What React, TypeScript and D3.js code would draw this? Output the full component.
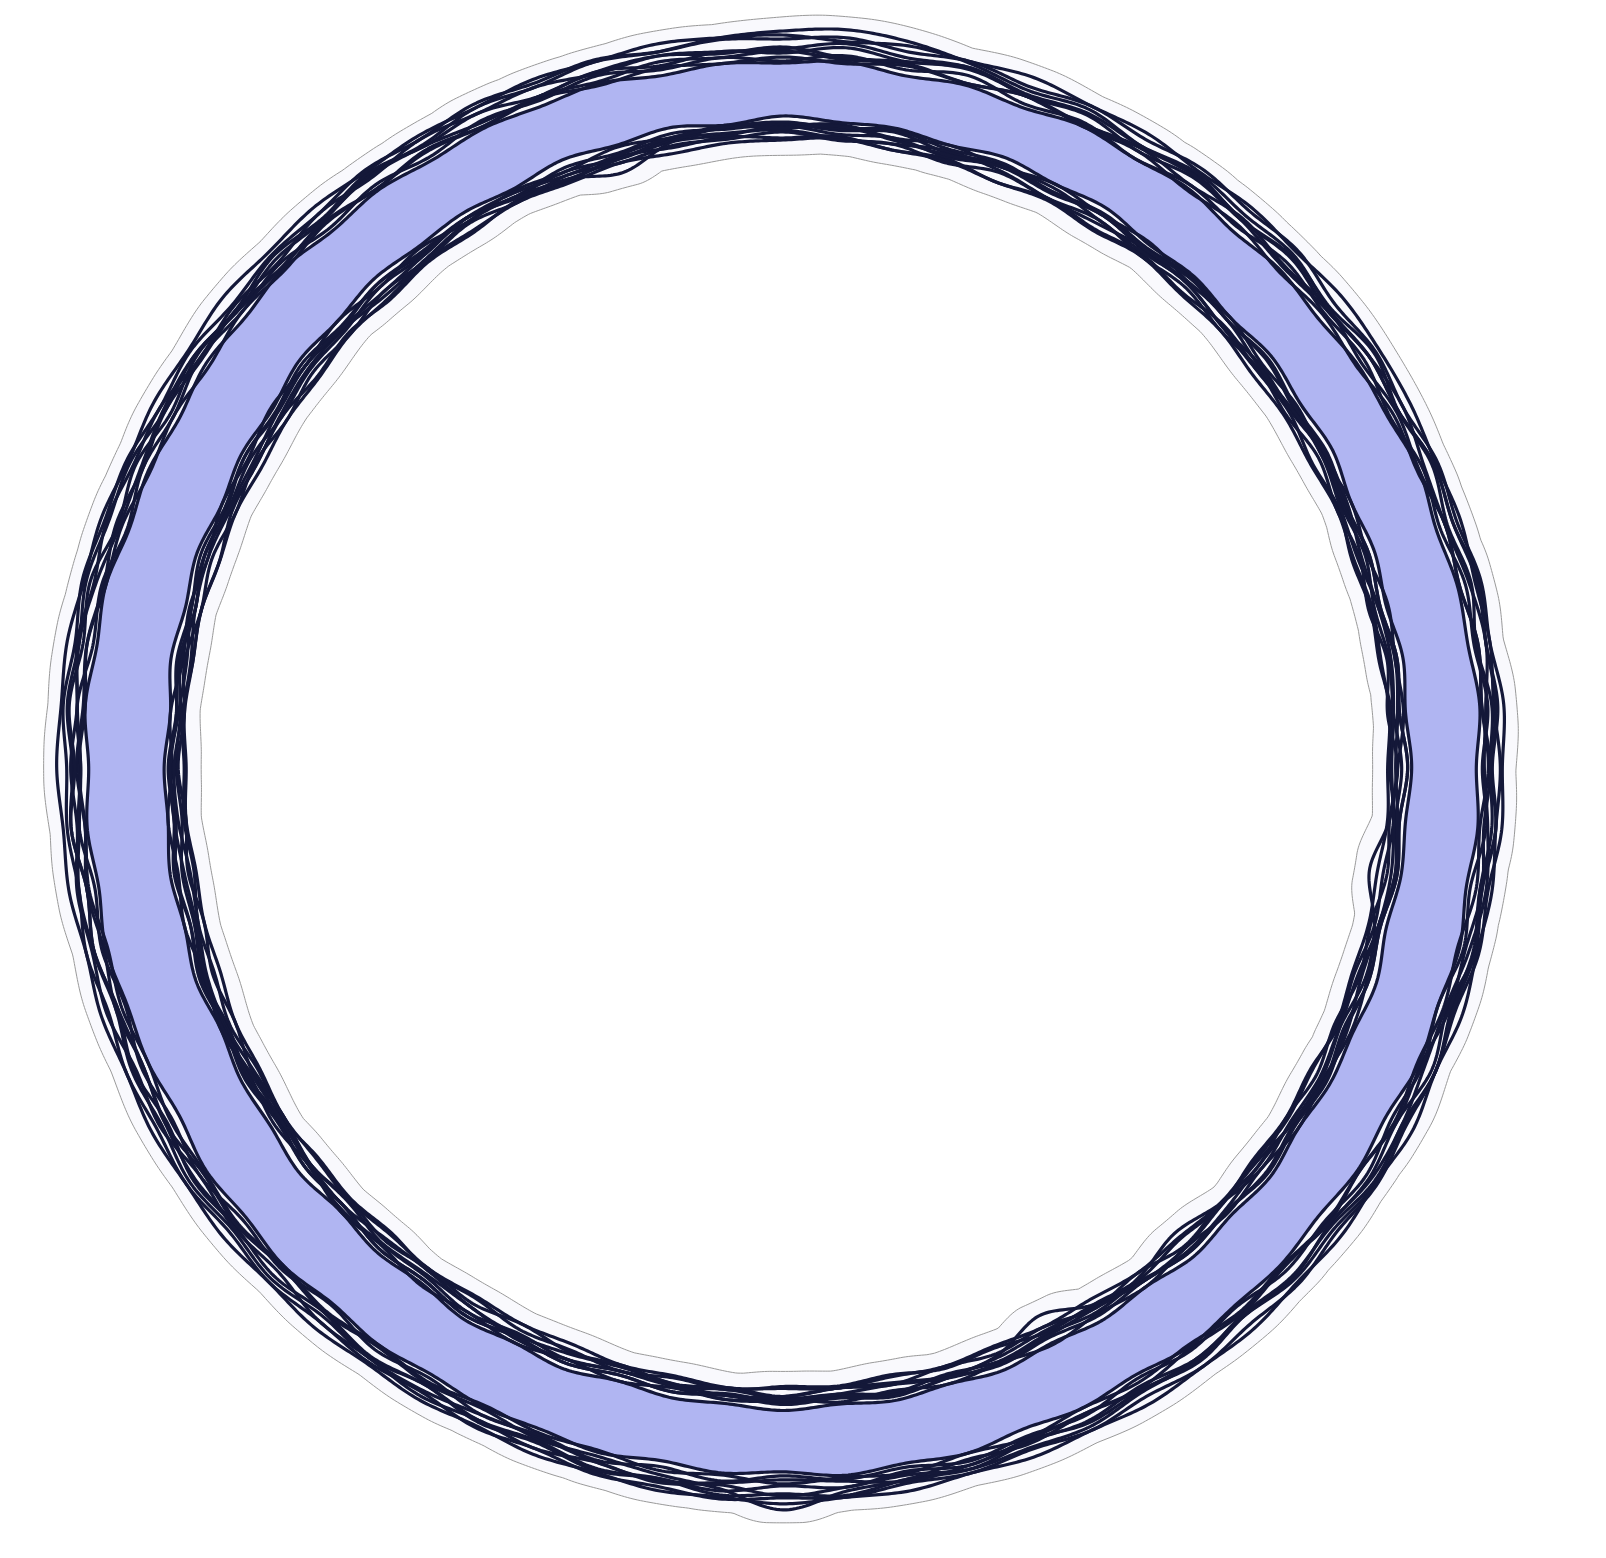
import React, { useEffect, useRef } from 'react';
import * as d3 from 'd3';

const WIDTH = 1606;
const HEIGHT = 1558;
const CX = 783;
const CY = 767;

// band edge radii, every 15 degrees clockwise from the top
const baseOuter = [702, 702, 701, 699, 697, 694, 693, 694, 697, 700, 703, 705, 705, 704, 702, 700, 697, 695, 694, 695, 697, 700, 701, 702];
const baseInner = [652, 650, 646, 640, 634, 630, 628, 630, 634, 638, 641, 643, 644, 642, 638, 633, 628, 623, 620, 622, 627, 634, 642, 648];

// each member's outer contour: outward distance from the band edge, every 5 degrees
const outer0 = [34, 38, 34, 26, 18, 24, 16, 22, 14, 20, 12, 18, 14, 22, 18, 26, 20, 24, 16, 22, 14, 20, 16, 24, 18, 26, 20, 24, 16, 20, 12, 18, 14, 22, 18, 26, 22, 26, 18, 22, 14, 18, 12, 20, 16, 24, 20, 26, 20, 22, 14, 18, 12, 20, 16, 24, 20, 26, 22, 24, 16, 20, 12, 18, 14, 22, 18, 26, 22, 28, 24, 30];
const outer1 = [8, 4, 10, 6, 12, 6, 10, 4, 8, 2, 6, 2, 8, 4, 10, 6, 12, 8, 12, 6, 10, 4, 8, 4, 10, 6, 12, 6, 10, 4, 8, 4, 10, 6, 12, 8, 12, 6, 10, 4, 6, 2, 8, 4, 10, 6, 12, 8, 10, 4, 8, 4, 10, 6, 12, 8, 12, 6, 8, 2, 6, 2, 8, 4, 10, 6, 12, 6, 10, 4, 8, 4];
const outer2 = [12, 20, 14, 22, 12, 18, 10, 18, 14, 22, 16, 24, 14, 20, 12, 18, 10, 18, 14, 22, 16, 22, 12, 20, 12, 18, 14, 22, 16, 24, 16, 20, 12, 18, 10, 18, 14, 22, 18, 24, 16, 20, 12, 18, 12, 20, 16, 22, 14, 20, 12, 18, 12, 20, 14, 22, 16, 22, 12, 18, 10, 18, 14, 22, 16, 24, 16, 20, 12, 18, 10, 16];
const outer3 = [14, 8, 12, 6, 12, 8, 14, 10, 16, 10, 14, 8, 12, 6, 10, 6, 12, 8, 14, 10, 16, 12, 14, 8, 12, 6, 10, 6, 12, 8, 14, 10, 16, 12, 18, 22, 38, 20, 14, 10, 12, 6, 10, 6, 12, 8, 14, 10, 16, 10, 14, 8, 12, 6, 10, 6, 12, 8, 14, 10, 16, 12, 14, 8, 12, 6, 10, 6, 12, 8, 14, 10];
const outer4 = [26, 30, 24, 28, 22, 28, 24, 30, 26, 30, 22, 26, 20, 26, 22, 28, 24, 30, 26, 28, 22, 26, 20, 24, 22, 28, 24, 30, 26, 30, 24, 28, 22, 26, 22, 28, 26, 30, 26, 28, 22, 26, 20, 24, 22, 28, 24, 30, 26, 28, 22, 26, 20, 24, 22, 28, 24, 30, 26, 28, 22, 26, 20, 24, 22, 28, 24, 30, 26, 30, 24, 28];
const outer5 = [2, 6, 0, 4, 0, 6, 2, 6, 0, 4, 0, 4, 2, 6, 0, 4, 2, 6, 0, 4, 0, 6, 2, 6, 0, 4, 0, 4, 2, 6, 0, 4, 0, 6, 2, 6, 0, 4, 0, 6, 2, 4, 0, 4, 0, 6, 2, 6, 0, 4, 2, 6, 0, 4, 0, 6, 2, 6, 0, 4, 0, 6, 2, 6, 0, 4, 0, 4, 2, 6, 0, 4];
const outer6 = [18, 10, 14, 20, 12, 8, 14, 20, 14, 8, 12, 18, 20, 12, 10, 16, 20, 12, 8, 14, 20, 16, 10, 12, 18, 20, 12, 8, 14, 20, 16, 10, 12, 18, 20, 12, 8, 14, 20, 16, 10, 12, 18, 20, 12, 8, 14, 20, 16, 10, 12, 18, 20, 12, 8, 14, 20, 16, 10, 12, 18, 20, 12, 8, 14, 20, 16, 10, 12, 18, 20, 14];
const outer7 = [30, 26, 30, 28, 32, 28, 30, 26, 30, 28, 32, 30, 28, 24, 26, 22, 24, 20, 24, 22, 26, 24, 28, 24, 30, 26, 30, 28, 32, 30, 32, 28, 30, 26, 30, 28, 32, 28, 30, 26, 28, 24, 28, 26, 30, 28, 32, 30, 32, 28, 30, 26, 30, 28, 32, 30, 32, 28, 30, 26, 30, 28, 32, 28, 30, 26, 28, 26, 30, 28, 32, 30];
const outer8 = [4, 12, 6, 14, 4, 10, 2, 10, 6, 14, 8, 12, 4, 10, 4, 12, 8, 14, 6, 12, 4, 10, 2, 10, 6, 14, 8, 12, 4, 10, 4, 12, 8, 14, 6, 10, 4, 12, 6, 14, 8, 12, 4, 10, 2, 10, 6, 14, 8, 12, 4, 10, 4, 12, 8, 14, 6, 10, 2, 10, 6, 14, 8, 12, 4, 10, 4, 12, 8, 14, 6, 10];
const outer9 = [16, 24, 18, 22, 14, 20, 16, 24, 20, 24, 14, 18, 14, 22, 18, 24, 20, 22, 14, 18, 14, 22, 18, 24, 20, 24, 16, 20, 14, 22, 18, 24, 20, 22, 14, 18, 24, 16, 22, 16, 22, 18, 24, 20, 22, 14, 18, 14, 22, 18, 24, 20, 22, 14, 18, 14, 22, 18, 24, 20, 22, 14, 18, 14, 22, 18, 24, 20, 22, 16, 20, 16];

// each member's inner contour: inward distance from the band edge, every 5 degrees
const inner0 = [10, 6, 12, 6, 10, 4, 8, 4, 10, 6, 12, 8, 12, 6, 10, 4, 8, 6, 14, 20, 34, 18, 10, 6, 10, 6, 12, 8, 12, 6, 10, 4, 8, 4, 10, 6, 12, 8, 12, 6, 10, 4, 8, 4, 10, 6, 12, 8, 12, 6, 10, 4, 8, 4, 10, 6, 12, 8, 12, 6, 10, 4, 8, 4, 10, 6, 12, 8, 12, 6, 10, 6];
const inner1 = [22, 18, 24, 20, 26, 20, 24, 18, 22, 16, 20, 18, 24, 20, 26, 22, 24, 18, 22, 16, 20, 18, 24, 20, 26, 22, 24, 18, 22, 16, 20, 18, 24, 20, 26, 22, 24, 18, 22, 16, 20, 18, 24, 20, 26, 22, 24, 18, 22, 16, 20, 18, 24, 20, 22, 18, 22, 20, 24, 18, 20, 18, 24, 20, 26, 22, 24, 18, 22, 16, 20, 18];
const inner2 = [0, 4, 2, 6, 0, 4, 0, 6, 2, 6, 0, 4, 0, 6, 2, 6, 0, 4, 0, 4, 2, 6, 0, 4, 2, 6, 0, 4, 0, 6, 2, 6, 0, 4, 0, 4, 0, 4, 2, 6, 0, 4, 0, 6, 2, 6, 0, 4, 2, 6, 0, 4, 0, 4, 2, 6, 0, 4, 0, 6, 2, 6, 0, 4, 0, 4, 2, 6, 0, 4, 0, 6];
const inner3 = [10, 16, 12, 18, 10, 14, 8, 14, 12, 18, 14, 16, 10, 16, 12, 18, 14, 16, 10, 14, 8, 14, 12, 18, 14, 16, 12, 20, 30, 18, 12, 16, 10, 14, 8, 14, 12, 18, 14, 16, 10, 14, 8, 14, 12, 18, 14, 16, 10, 14, 8, 14, 12, 18, 14, 16, 10, 14, 8, 14, 12, 18, 14, 16, 10, 14, 8, 14, 12, 18, 14, 16];
const inner4 = [24, 20, 24, 22, 26, 22, 26, 20, 24, 22, 26, 24, 26, 22, 24, 20, 22, 20, 24, 22, 26, 24, 26, 22, 24, 20, 22, 20, 24, 22, 26, 24, 26, 22, 24, 20, 22, 20, 24, 22, 26, 24, 26, 22, 24, 20, 22, 20, 24, 22, 26, 24, 26, 22, 24, 20, 22, 20, 24, 22, 26, 24, 26, 22, 24, 20, 22, 20, 24, 22, 26, 24];
const inner5 = [8, 12, 6, 14, 8, 12, 6, 10, 4, 10, 6, 12, 8, 14, 8, 12, 6, 10, 4, 10, 6, 12, 8, 14, 8, 12, 6, 10, 6, 14, 20, 36, 16, 10, 6, 12, 8, 14, 8, 12, 6, 10, 4, 10, 6, 12, 8, 14, 8, 12, 6, 10, 4, 10, 6, 12, 8, 14, 8, 12, 6, 10, 4, 10, 6, 12, 8, 14, 8, 12, 6, 10];
const inner6 = [14, 20, 18, 12, 14, 20, 18, 12, 12, 18, 20, 14, 12, 18, 20, 14, 12, 16, 20, 16, 12, 14, 20, 18, 12, 14, 20, 18, 12, 12, 18, 20, 14, 12, 18, 20, 14, 12, 16, 20, 16, 12, 14, 20, 18, 12, 14, 20, 18, 12, 12, 18, 20, 14, 12, 18, 20, 14, 12, 16, 20, 16, 12, 14, 20, 18, 12, 14, 20, 18, 12, 14];
const inner7 = [6, 10, 4, 10, 6, 12, 8, 12, 6, 10, 4, 10, 6, 12, 8, 12, 6, 10, 4, 10, 6, 12, 8, 12, 6, 10, 4, 10, 6, 12, 8, 12, 6, 10, 4, 10, 6, 12, 8, 12, 6, 10, 4, 10, 6, 12, 8, 12, 6, 10, 4, 10, 6, 12, 8, 12, 6, 10, 4, 10, 6, 12, 8, 12, 6, 10, 8, 16, 20, 32, 14, 8];
const inner8 = [16, 22, 18, 24, 16, 20, 14, 20, 16, 22, 18, 22, 16, 22, 18, 24, 16, 22, 14, 20, 16, 22, 18, 24, 18, 22, 16, 20, 14, 22, 16, 24, 18, 22, 16, 20, 14, 20, 16, 22, 18, 24, 18, 22, 16, 20, 14, 20, 16, 22, 18, 24, 18, 22, 16, 20, 14, 20, 16, 22, 18, 24, 18, 22, 16, 20, 14, 20, 16, 22, 18, 20];
const inner9 = [12, 8, 14, 16, 10, 8, 14, 16, 10, 10, 16, 14, 8, 10, 16, 14, 8, 12, 16, 12, 8, 14, 16, 10, 8, 14, 16, 12, 8, 12, 16, 14, 8, 10, 16, 14, 10, 8, 14, 16, 10, 8, 14, 16, 12, 8, 12, 16, 14, 8, 10, 16, 14, 10, 8, 14, 16, 10, 8, 14, 16, 12, 8, 12, 16, 14, 8, 10, 16, 14, 10, 8];

const outerDevs = [outer0, outer1, outer2, outer3, outer4, outer5, outer6, outer7, outer8, outer9];
const innerDevs = [inner0, inner1, inner2, inner3, inner4, inner5, inner6, inner7, inner8, inner9];

const SAMPLES = 1440;

// periodic Catmull-Rom through the control values (t in [0, 1))
const catmullClosed = (values: number[]) => (t: number) => {
  const n = values.length;
  const x = t * n;
  const i = Math.floor(x);
  const u = x - i;
  const p0 = values[(i - 1 + n) % n];
  const p1 = values[i % n];
  const p2 = values[(i + 1) % n];
  const p3 = values[(i + 2) % n];
  return 0.5 * (2 * p1 + (-p0 + p2) * u + (2 * p0 - 5 * p1 + 4 * p2 - p3) * u * u + (-p0 + 3 * p1 - 3 * p2 + p3) * u * u * u);
};

const App: React.FC = () => {
  const svgRef = useRef<SVGSVGElement>(null);

  useEffect(() => {
    const svg = d3.select(svgRef.current);
    svg.selectAll('*').remove();

    const rScale = d3.scaleLinear().domain([0, 800]).range([0, 800]);
    const ts = d3.range(SAMPLES).map((i) => i / SAMPLES);
    const angles = ts.map((t) => t * 2 * Math.PI);

    const outerBase = d3.interpolateBasisClosed(baseOuter);
    const innerBase = d3.interpolateBasisClosed(baseInner);

    const outerRings = outerDevs.map((dev) => {
      const f = catmullClosed(dev);
      return ts.map((t) => outerBase(t) + f(t));
    });
    const innerRings = innerDevs.map((dev) => {
      const f = catmullClosed(dev);
      return ts.map((t) => innerBase(t) - f(t));
    });

    // band = region every member covers
    const fillOuter = ts.map((_, i) => d3.min(outerRings, (r) => r[i]) as number);
    const fillInner = ts.map((_, i) => d3.max(innerRings, (r) => r[i]) as number);

    // halo around everything, slightly dilated
    const maxOuter = ts.map((_, i) => d3.max(outerRings, (r) => r[i]) as number);
    const minInner = ts.map((_, i) => d3.min(innerRings, (r) => r[i]) as number);
    const win = 5;
    const haloOuter = ts.map((_, i) => {
      let m = -Infinity;
      for (let k = -win; k <= win; k++) m = Math.max(m, maxOuter[(i + k + SAMPLES) % SAMPLES]);
      return m + 13;
    });
    const haloInner = ts.map((_, i) => {
      let m = Infinity;
      for (let k = -win; k <= win; k++) m = Math.min(m, minInner[(i + k + SAMPLES) % SAMPLES]);
      return m - 15;
    });

    const radial = d3
      .lineRadial<number>()
      .angle((d, i) => angles[i])
      .radius((d) => rScale(d))
      .curve(d3.curveLinearClosed);

    const g = svg.append('g').attr('transform', `translate(${CX},${CY})`);

    g.append('path')
      .attr('d', (radial(haloOuter) || '') + (radial(haloInner) || ''))
      .attr('fill', '#f9f9fd')
      .attr('fill-rule', 'evenodd')
      .attr('stroke', '#9a9a9a')
      .attr('stroke-width', 1);

    g.append('path')
      .attr('d', (radial(fillOuter) || '') + (radial(fillInner) || ''))
      .attr('fill', '#b0b5f2')
      .attr('fill-rule', 'evenodd');

    g.selectAll('path.member')
      .data([...outerRings, ...innerRings])
      .join('path')
      .attr('class', 'member')
      .attr('d', (d) => radial(d))
      .attr('fill', 'none')
      .attr('stroke', '#141839')
      .attr('stroke-width', 3.2)
      .attr('stroke-linejoin', 'round');
  }, []);

  return (
    <svg
      ref={svgRef}
      width={WIDTH}
      height={HEIGHT}
      style={{ position: 'absolute', left: 0, top: 0, background: '#ffffff' }}
    />
  );
};

export default App;
